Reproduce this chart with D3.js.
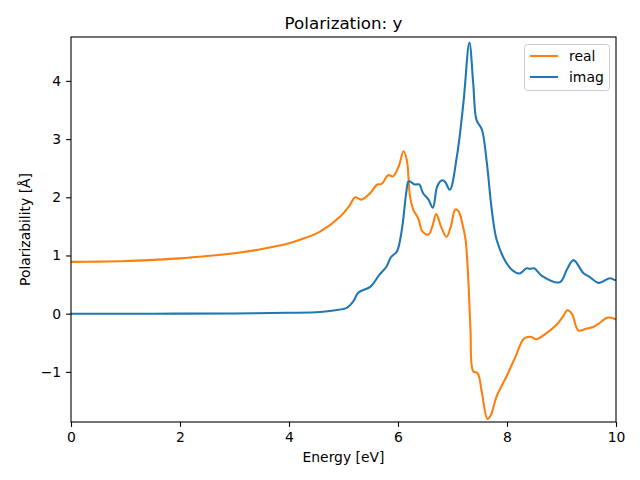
<!DOCTYPE html>
<html><head><meta charset="utf-8">
<script src="https://cdn.jsdelivr.net/npm/d3@7"></script>
<style>body{margin:0;background:#fff}svg{display:block}text{font-family:"DejaVu Sans",sans-serif;fill:#000}</style>
</head><body>
<script>
const realX = [0,0.5,1,1.5,2,2.5,3,3.5,4,4.2,4.57,4.94,5.12,5.21,5.33,5.49,5.62,5.70,5.82,5.91,6.02,6.10,6.16,6.22,6.28,6.37,6.45,6.56,6.63,6.70,6.80,6.89,6.97,7.05,7.11,7.18,7.24,7.29,7.33,7.38,7.46,7.54,7.64,7.70,7.81,7.99,8.15,8.30,8.38,8.45,8.54,8.70,8.91,9.02,9.11,9.19,9.31,9.45,9.58,9.70,9.83,9.92,10];
const realY = [0.89,0.895,0.905,0.925,0.95,0.99,1.04,1.11,1.21,1.27,1.41,1.67,1.87,2.0,1.96,2.07,2.22,2.23,2.38,2.36,2.55,2.79,2.65,2.02,1.79,1.64,1.41,1.36,1.5,1.71,1.47,1.32,1.5,1.79,1.76,1.55,1.27,0.58,-0.27,-0.99,-1.02,-1.36,-1.81,-1.75,-1.42,-1.08,-0.75,-0.44,-0.40,-0.40,-0.44,-0.35,-0.19,-0.06,0.06,0.0,-0.29,-0.26,-0.23,-0.16,-0.07,-0.07,-0.10];
const imagX = [0,1,2,3,4,4.57,4.85,5.06,5.18,5.27,5.49,5.66,5.79,5.87,5.98,6.07,6.15,6.19,6.22,6.31,6.39,6.46,6.56,6.64,6.72,6.80,6.86,6.95,7.08,7.20,7.31,7.38,7.44,7.54,7.63,7.72,7.81,7.99,8.12,8.23,8.36,8.42,8.50,8.64,8.97,9.10,9.22,9.40,9.52,9.68,9.89,9.98,10];
const imagY = [0,0,0.001,0.004,0.015,0.03,0.06,0.10,0.21,0.36,0.46,0.67,0.81,0.97,1.07,1.44,2.07,2.27,2.27,2.22,2.22,2.07,1.96,1.82,2.19,2.29,2.27,2.13,2.70,3.62,4.66,3.96,3.33,3.16,2.59,1.79,1.27,0.87,0.73,0.69,0.78,0.77,0.78,0.65,0.54,0.76,0.92,0.70,0.63,0.53,0.61,0.58,0.58];
const xTicks = [0,2,4,6,8,10];
const yTicks = [-1,0,1,2,3,4];
const seriesNames = ["real","imag"];
const colors = ["#ff7f0e","#1f77b4"];

const W=640,H=480, L=71, R=616, T=37, B=422;
const svg=d3.select("body").append("svg").attr("width",W).attr("height",H);
const x=d3.scaleLinear().domain([0,10]).range([L,R]);
const y=d3.scaleLinear().domain([-1.861,4.754]).range([B,T]);

const line=d3.line().x(d=>x(d[0])).y(d=>y(d[1])).curve(d3.curveCatmullRom.alpha(0.5));
svg.append("clipPath").attr("id","c").append("rect").attr("x",L).attr("y",T).attr("width",R-L).attr("height",B-T);
const g=svg.append("g").attr("clip-path","url(#c)");
const data=[d3.zip(realX,realY), d3.zip(imagX,imagY)];
data.forEach((d,i)=>g.append("path").attr("d",line(d)).attr("fill","none").attr("stroke",colors[i]).attr("stroke-width",2.08).attr("stroke-linejoin","round"));

const fmt=v=>v<0?"\u2212"+Math.abs(v):String(v);
const xa=svg.append("g").attr("transform",`translate(0,${B})`).call(d3.axisBottom(x).tickValues(xTicks).tickFormat(fmt).tickSize(4.9).tickPadding(4.9));
const ya=svg.append("g").attr("transform",`translate(${L},0)`).call(d3.axisLeft(y).tickValues(yTicks).tickFormat(fmt).tickSize(4.9).tickPadding(4.9));
[xa,ya].forEach(a=>{a.select(".domain").remove();a.selectAll("text").attr("font-size",13.9).attr("font-family","DejaVu Sans");a.selectAll("line").attr("stroke","#000").attr("stroke-width",1.1);});
svg.append("rect").attr("x",L).attr("y",T).attr("width",R-L).attr("height",B-T).attr("fill","none").attr("stroke","#000").attr("stroke-width",1.1);

svg.append("text").attr("x",(L+R)/2).attr("y",29).attr("text-anchor","middle").attr("font-size",16.7).text("Polarization: y");
svg.append("text").attr("x",(L+R)/2).attr("y",462).attr("text-anchor","middle").attr("font-size",13.9).text("Energy [eV]");
svg.append("text").attr("transform",`translate(30,${(T+B)/2}) rotate(-90)`).attr("text-anchor","middle").attr("font-size",13.9).text("Polarizability [Å]");

const lg=svg.append("g");
lg.append("rect").attr("x",524.5).attr("y",44.5).attr("width",85).attr("height",46).attr("rx",3).attr("fill","#fff").attr("fill-opacity",0.8).attr("stroke","#ccc").attr("stroke-width",1);
seriesNames.forEach((n,i)=>{
  const yy=56+i*21;
  lg.append("line").attr("x1",530).attr("x2",558).attr("y1",yy).attr("y2",yy).attr("stroke",colors[i]).attr("stroke-width",2.08);
  lg.append("text").attr("x",569).attr("y",yy+5).attr("font-size",13.9).text(n);
});
</script>
</body></html>
